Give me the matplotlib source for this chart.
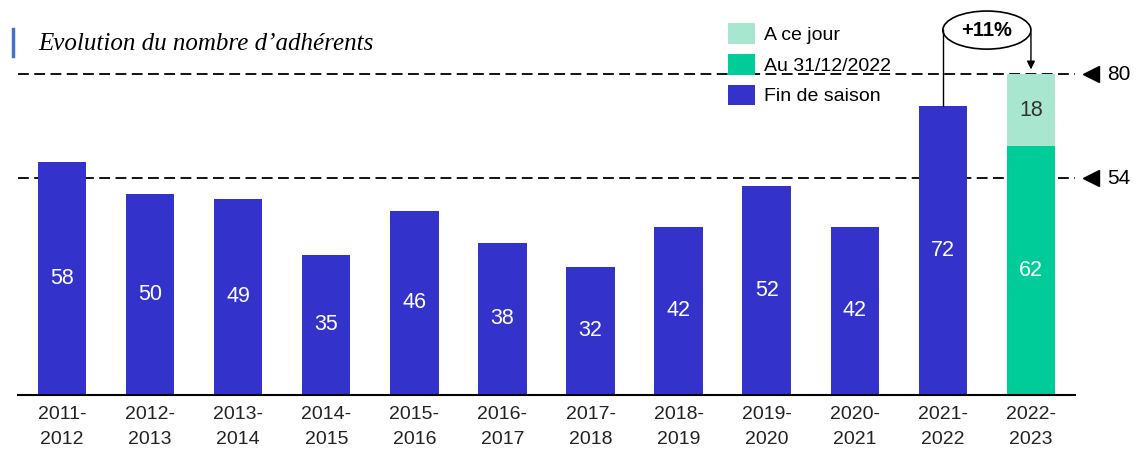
import matplotlib.pyplot as plt
from matplotlib.patches import Ellipse

seasons = ["2011-\n2012", "2012-\n2013", "2013-\n2014", "2014-\n2015", "2015-\n2016",
           "2016-\n2017", "2017-\n2018", "2018-\n2019", "2019-\n2020", "2020-\n2021",
           "2021-\n2022", "2022-\n2023"]
fin_saison = [58, 50, 49, 35, 46, 38, 32, 42, 52, 42, 72, 0]
au_31_12 = [0, 0, 0, 0, 0, 0, 0, 0, 0, 0, 0, 62]
a_ce_jour = [0, 0, 0, 0, 0, 0, 0, 0, 0, 0, 0, 18]
ref_lines = [80, 54]
growth = "+11%"

BLUE = "#3333CC"
GREEN = "#00CC99"
LIGHT = "#A8E6CF"

plt.rcParams['font.family'] = ['Liberation Sans', 'DejaVu Sans']

fig = plt.figure(figsize=(11.36, 4.5), dpi=100)
ax = fig.add_axes([0.0158, 0.1222, 0.9305, 0.8778])
x = list(range(len(seasons)))
w = 0.55

ax.bar(x, fin_saison, width=w, color=BLUE, label="Fin de saison", zorder=2)
ax.bar(x, au_31_12, width=w, color=GREEN, label="Au 31/12/2022", zorder=2)
ax.bar(x, a_ce_jour, width=w, bottom=au_31_12, color=LIGHT, label="A ce jour", zorder=2)

for i in x:
    if fin_saison[i]:
        ax.text(i, fin_saison[i] / 2, str(fin_saison[i]), ha='center', va='center',
                color='white', fontsize=15.5)
    if au_31_12[i]:
        ax.text(i, au_31_12[i] / 2, str(au_31_12[i]), ha='center', va='center',
                color='white', fontsize=15.5)
    if a_ce_jour[i]:
        ax.text(i, au_31_12[i] + a_ce_jour[i] / 2, str(a_ce_jour[i]), ha='center',
                va='center', color='#333333', fontsize=15.5)

for v in ref_lines:
    ax.axhline(v, color='black', lw=1.3, ls=(0, (6, 3)), zorder=1)
    ax.plot([1.015], [v], marker='<', color='black', markersize=11,
            transform=ax.get_yaxis_transform(), clip_on=False)
    ax.text(1.03, v, str(v), transform=ax.get_yaxis_transform(), va='center',
            ha='left', fontsize=15)

ax.set_xlim(-0.5, 11.5)
ax.set_ylim(0, 98.5)
ax.set_xticks(x)
ax.set_xticklabels(seasons, fontsize=14, color='#222222', linespacing=1.6)
ax.tick_params(axis='x', length=0, pad=8)
ax.set_yticks([])
for s in ['top', 'right', 'left']:
    ax.spines[s].set_visible(False)
ax.spines['bottom'].set_linewidth(1.5)

# growth annotation
top_y = 91
ax.plot([10, 10], [fin_saison[10], top_y], color='black', lw=1)
ax.add_patch(Ellipse((10.5, top_y), 1.0, 9.5, fill=False, lw=1.2, zorder=3))
ax.annotate("", xy=(11, ref_lines[0] + 0.5), xytext=(11, top_y),
            arrowprops=dict(arrowstyle='-|>', color='black', lw=1, mutation_scale=12))
ax.text(10.5, top_y, growth, ha='center', va='center', fontsize=14.5, fontweight='bold')

handles, labels = ax.get_legend_handles_labels()
ax.legend(handles[::-1], labels[::-1], loc='upper left', bbox_to_anchor=(0.655, 0.985),
          frameon=False, fontsize=14, handlelength=1.4, handleheight=1.25,
          handletextpad=0.45, labelspacing=0.5)

fig.text(0.034, 0.902, "Evolution du nombre d\u2019adh\u00e9rents", family='Liberation Serif',
         style='italic', fontsize=18, va='center')
fig.add_artist(plt.Line2D([0.0115, 0.0115], [0.875, 0.935], color='#4472C4', lw=2.5))

fig.savefig("out.png", dpi=100)
